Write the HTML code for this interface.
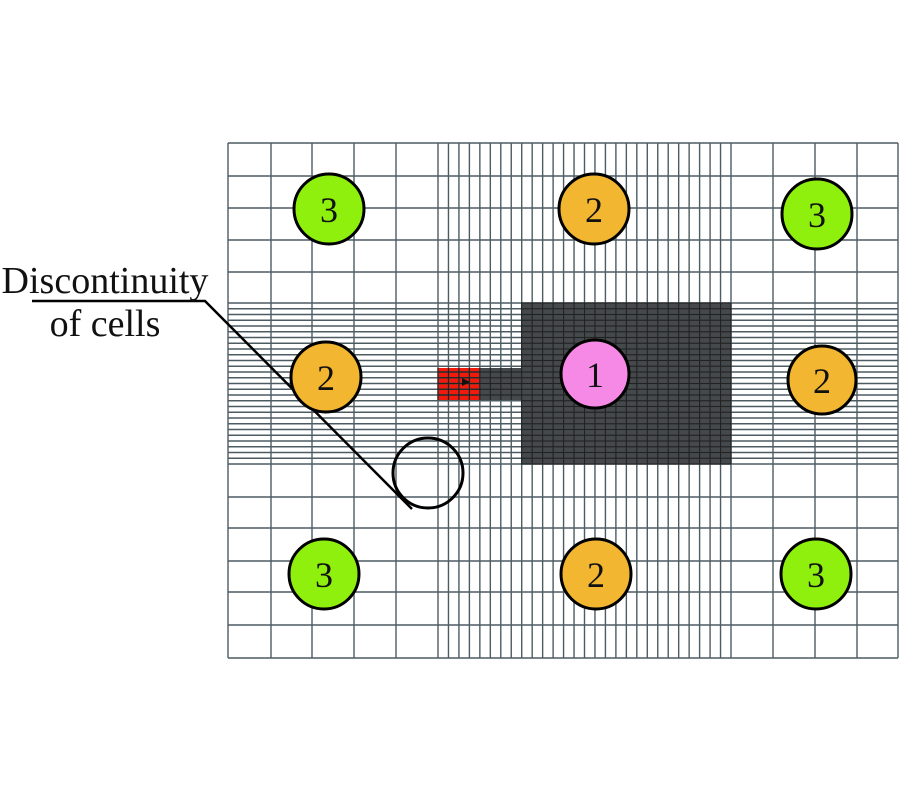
<!DOCTYPE html>
<html><head><meta charset="utf-8"><style>
html,body{margin:0;padding:0;background:#fff;width:900px;height:800px;overflow:hidden}
svg{display:block}
text{font-family:"Liberation Serif",serif}
</style></head><body>
<svg id="s" width="900" height="800" viewBox="0 0 900 800">
<rect x="521" y="303" width="210" height="161" fill="#45494c"/>
<rect x="480" y="368" width="41" height="32" fill="#45494c"/>
<rect x="438" y="368" width="42" height="32" fill="#f21a0a"/>
<g id="grid" stroke="#4d5c63" stroke-width="1.4"></g>
<g id="dgrid" stroke="#222" stroke-width="1.2"></g>
<polygon points="462,378 470,382 462,386" fill="#111"/>
<polyline points="32,301 205,301 412,509" fill="none" stroke="#000" stroke-width="2.5"/>
<g stroke="#000" stroke-width="3">
<circle cx="329" cy="209" r="35" fill="#8ff00e"/>
<circle cx="594" cy="209" r="35" fill="#f2b630"/>
<circle cx="817" cy="214" r="35" fill="#8ff00e"/>
<circle cx="326" cy="377" r="35" fill="#f2b630"/>
<circle cx="595" cy="374" r="34" fill="#f688e6"/>
<circle cx="822" cy="380" r="34" fill="#f2b630"/>
<circle cx="428" cy="473" r="35" fill="none"/>
<circle cx="324" cy="574" r="35" fill="#8ff00e"/>
<circle cx="596" cy="574" r="35" fill="#f2b630"/>
<circle cx="816" cy="574" r="35" fill="#8ff00e"/>
</g>
<g font-size="36" text-anchor="middle" fill="#111">
<text x="329" y="222">3</text><text x="594" y="222">2</text><text x="817" y="227">3</text>
<text x="326" y="390">2</text><text x="595" y="387">1</text><text x="822" y="393">2</text>
<text x="324" y="587">3</text><text x="596" y="587">2</text><text x="816" y="587">3</text>
</g>
<text x="105" y="293" font-size="38" text-anchor="middle" fill="#111">Discontinuity</text>
<text x="105" y="336" font-size="38" text-anchor="middle" fill="#111">of cells</text>
</svg>
<script>
var ns="http://www.w3.org/2000/svg";
var xs=[228,271,312,354,396],ys=[143,176,208,240,272];
for(var i=0;i<=28;i++)xs.push(438+i*(293/28));
xs.push(773,815,857,898);
for(var i=0;i<=28;i++)ys.push(303+i*(161/28));
ys.push(497,528,561,592,625,658);
var g=document.getElementById("grid"),d=document.getElementById("dgrid");
function ln(p,x1,y1,x2,y2){var l=document.createElementNS(ns,"line");l.setAttribute("x1",x1);l.setAttribute("y1",y1);l.setAttribute("x2",x2);l.setAttribute("y2",y2);p.appendChild(l);}
xs.forEach(function(x){ln(g,x,143,x,658);if(x>=521&&x<=731.5)ln(d,x,303,x,464);if(x>=438&&x<521)ln(d,x,368,x,400);});
ys.forEach(function(y){ln(g,228,y,898,y);if(y>=303&&y<=464.5)ln(d,521,y,731,y);if(y>=368&&y<=400)ln(d,438,y,521,y);});
</script>
</body></html>
